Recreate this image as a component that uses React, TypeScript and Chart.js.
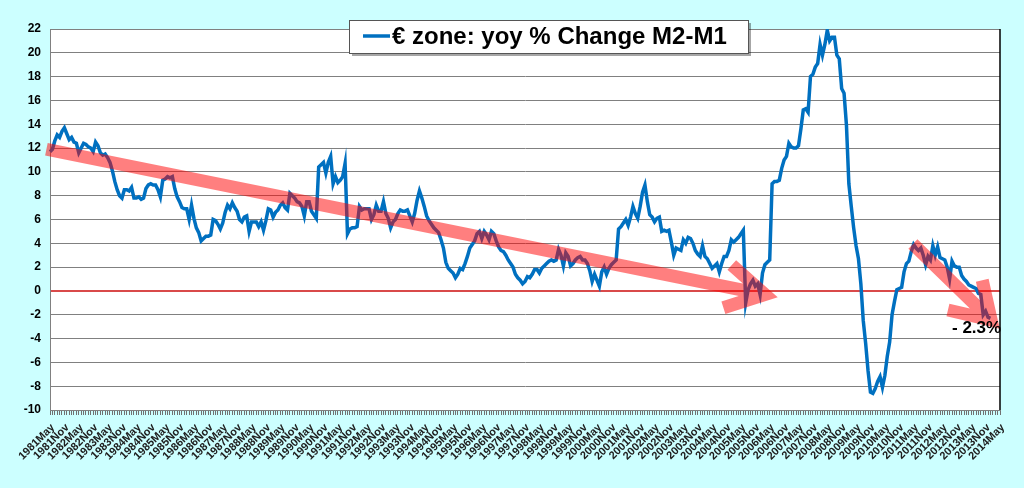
import React, { useEffect, useRef } from 'react';
import { Chart, registerables } from 'chart.js';

Chart.register(...registerables);

// Tick labels every 6 months (category axis is monthly)
const tickLabels = [
  '1981May', '1981Nov', '1982May', '1982Nov', '1983May', '1983Nov', '1984May', '1984Nov',
  '1985May', '1985Nov', '1986May', '1986Nov', '1987May', '1987Nov', '1988May', '1988Nov',
  '1989May', '1989Nov', '1990May', '1990Nov', '1991May', '1991Nov', '1992May', '1992Nov',
  '1993May', '1993Nov', '1994May', '1994Nov', '1995May', '1995Nov', '1996May', '1996Nov',
  '1997May', '1997Nov', '1998May', '1998Nov', '1999May', '1999Nov', '2000May', '2000Nov',
  '2001May', '2001Nov', '2002May', '2002Nov', '2003May', '2003Nov', '2004May', '2004Nov',
  '2005May', '2005Nov', '2006May', '2006Nov', '2007May', '2007Nov', '2008May', '2008Nov',
  '2009May', '2009Nov', '2010May', '2010Nov', '2011May', '2011Nov', '2012May', '2012Nov',
  '2013May', '2013Nov', '2014May',
];

// Monthly values, yoy % change of M2-M1
const m2m1_1981May_1986Apr = [
  11.7, 11.9, 12.6, 13.1, 12.9, 13.4, 13.7, 13.2, 12.7, 12.9, 12.5, 12.4,
  11.6, 12.0, 12.4, 12.3, 12.1, 12.0, 11.7, 12.5, 12.2, 11.6, 11.4, 11.5,
  11.2, 10.8, 10.1, 9.2, 8.5, 8.0, 7.8, 8.5, 8.5, 8.4, 8.7, 7.8,
  7.8, 7.9, 7.7, 7.8, 8.6, 8.9, 9.0, 8.9, 8.9, 8.5, 7.9, 9.3,
  9.4, 9.6, 9.5, 9.6, 8.6, 7.9, 7.5, 7.0, 6.9, 6.9, 6.0, 7.2,
];
const m2m1_1986May_1991Apr = [
  6.1, 5.3, 4.9, 4.2, 4.4, 4.6, 4.6, 4.7, 6.0, 5.9, 5.6, 5.2,
  5.7, 6.6, 7.2, 6.9, 7.4, 7.0, 6.7, 6.0, 5.8, 6.2, 6.3, 5.0,
  5.8, 5.8, 5.8, 5.4, 5.8, 5.1, 5.9, 6.9, 6.8, 6.2, 6.6, 6.8,
  7.2, 7.4, 7.0, 6.8, 8.2, 8.0, 7.8, 7.5, 7.4, 7.1, 6.3, 7.5,
  7.5, 6.7, 6.4, 6.1, 10.4, 10.6, 10.8, 9.9, 10.8, 11.3, 9.0, 9.6,
];
const m2m1_1991May_1996Apr = [
  9.1, 9.3, 9.6, 10.7, 4.8, 5.2, 5.3, 5.3, 5.4, 7.1, 6.8, 6.9,
  6.9, 6.9, 6.0, 6.4, 7.2, 6.7, 6.7, 7.5, 6.5, 6.1, 5.3, 5.8,
  6.0, 6.5, 6.8, 6.7, 6.7, 6.8, 6.3, 5.8, 6.5, 7.6, 8.4, 7.8,
  7.1, 6.3, 5.9, 5.6, 5.3, 5.1, 4.9, 4.3, 3.6, 2.4, 1.9, 1.7,
  1.5, 1.1, 1.4, 1.9, 1.8, 2.3, 2.9, 3.6, 3.9, 4.2, 4.8, 5.0,
];
const m2m1_1996May_2001Apr = [
  4.4, 5.0, 4.7, 4.3, 5.0, 4.8, 4.2, 3.7, 3.4, 3.3, 3.0, 2.6,
  2.3, 2.0, 1.4, 1.1, 0.9, 0.6, 0.8, 1.2, 1.1, 1.4, 1.8, 1.8,
  1.5, 1.9, 2.1, 2.3, 2.5, 2.6, 2.5, 2.6, 3.5, 3.0, 2.1, 3.2,
  2.9, 2.1, 2.3, 2.6, 2.8, 2.9, 2.6, 2.6, 2.3, 1.7, 0.8, 1.4,
  0.9, 0.4, 1.6, 2.0, 1.4, 1.9, 2.2, 2.4, 2.6, 5.2, 5.4, 5.7,
];
const m2m1_2001May_2006Apr = [
  6.0, 5.5, 6.2, 7.1, 6.5, 6.1, 7.1, 8.3, 8.9, 7.5, 6.4, 6.2,
  5.8, 6.1, 6.2, 5.0, 5.1, 5.0, 5.1, 4.1, 3.0, 3.6, 3.5, 3.4,
  4.3, 4.0, 4.5, 4.4, 4.0, 3.4, 3.1, 2.9, 3.8, 2.9, 2.7, 2.3,
  1.9, 2.1, 2.3, 1.6, 2.3, 2.9, 2.9, 3.4, 4.3, 4.1, 4.3, 4.5,
  4.8, 5.1, -1.0, 0.1, 0.6, 0.9, 0.4, 0.6, -0.3, 1.5, 2.2, 2.4,
];
const m2m1_2006May_2011Apr = [
  2.6, 9.0, 9.2, 9.2, 9.3, 10.3, 11.0, 11.3, 12.4, 12.1, 12.0, 12.0,
  12.2, 13.6, 15.2, 15.3, 15.0, 18.0, 18.2, 18.8, 19.1, 20.7, 19.8, 20.7,
  21.9, 21.0, 21.3, 21.3, 19.8, 19.5, 17.0, 16.6, 13.9, 9.0, 7.1, 5.3,
  3.8, 2.7, 0.6, -2.5, -4.4, -6.7, -8.5, -8.6, -8.2, -7.6, -7.2, -8.1,
  -7.1, -5.5, -4.3, -2.0, -0.9, 0.1, 0.2, 0.3, 1.6, 2.3, 2.5, 3.3,
];
const m2m1_2011May_2014May: (number | null)[] = [
  3.9, 3.6, 3.4, 3.6, 3.0, 2.2, 2.9, 2.6, 3.8, 3.0, 3.7, 2.8,
  2.7, 2.6, 2.0, 1.0, 2.5, 2.1, 2.0, 2.0, 1.3, 1.0, 0.8, 0.5,
  0.4, 0.3, 0.2, -0.2, -0.3, -2.0, -1.7, -2.2, -2.3, null, null, null, null,
];

const seriesValues: (number | null)[] = [
  ...m2m1_1981May_1986Apr,
  ...m2m1_1986May_1991Apr,
  ...m2m1_1991May_1996Apr,
  ...m2m1_1996May_2001Apr,
  ...m2m1_2001May_2006Apr,
  ...m2m1_2006May_2011Apr,
  ...m2m1_2011May_2014May,
];

const monthLabels = seriesValues.map((_, i) => (i % 6 === 0 ? tickLabels[i / 6] : ''));

const yMin = -10;
const yMax = 22;
const yStep = 2;

const legendText = '€ zone: yoy % Change M2-M1';
const calloutText = '- 2.3%';

// Annotation arrows in data units: [month index, value]
const longTrendArrow = {
  from: [-1.5, 11.9],
  tip: [298, -0.3],
  barbs: [[284.2, 2.18], [280.7, -1.41]],
};
const recentTrendArrow = {
  from: [359.7, 3.94],
  tip: [392.3, -2.45],
  barbs: [[388.6, 0.9], [374.3, -1.6]],
};
const calloutAt = [376, -3.1];

const FONT = "'Liberation Sans', Arial, sans-serif";
const LINE_BLUE = '#0070C0';

const decorPlugin = {
  id: 'decor',
  beforeDraw(chart: any) {
    const { ctx, chartArea: a, width, height } = chart;
    ctx.save();
    ctx.fillStyle = '#CCFFFF';
    ctx.fillRect(0, 0, width, height);
    ctx.fillStyle = '#FFFFFF';
    ctx.fillRect(a.left, a.top, a.right - a.left, a.bottom - a.top);
    ctx.restore();
  },
  afterDatasetsDraw(chart: any) {
    const { ctx } = chart;
    const xs = chart.scales.x;
    const ys = chart.scales.y;
    const px = (p: number[]) => [xs.getPixelForValue(p[0]), ys.getPixelForValue(p[1])];
    const drawArrow = (arr: any) => {
      const f = px(arr.from);
      const t = px(arr.tip);
      const b0 = px(arr.barbs[0]);
      const b1 = px(arr.barbs[1]);
      ctx.save();
      ctx.beginPath();
      ctx.moveTo(f[0], f[1]);
      ctx.lineTo(t[0], t[1]);
      ctx.moveTo(b0[0], b0[1]);
      ctx.lineTo(t[0], t[1]);
      ctx.lineTo(b1[0], b1[1]);
      ctx.strokeStyle = 'rgba(255,0,0,0.5)';
      ctx.lineWidth = 13;
      ctx.lineCap = 'butt';
      ctx.lineJoin = 'miter';
      ctx.miterLimit = 10;
      ctx.stroke();
      ctx.restore();
    };
    drawArrow(longTrendArrow);
    drawArrow(recentTrendArrow);

    const c = px(calloutAt);
    ctx.save();
    ctx.font = `bold 17px ${FONT}`;
    ctx.fillStyle = '#000000';
    ctx.textAlign = 'left';
    ctx.textBaseline = 'middle';
    ctx.fillText(calloutText, c[0], c[1]);
    ctx.restore();
  },
  afterDraw(chart: any) {
    const { ctx, chartArea: a } = chart;
    ctx.save();
    // right border of plot area
    ctx.strokeStyle = '#000000';
    ctx.lineWidth = 1.5;
    ctx.beginPath();
    ctx.moveTo(a.right, a.top);
    ctx.lineTo(a.right, a.bottom);
    ctx.stroke();

    // legend box
    const lx = 349, ly = 20, lw = 399, lh = 33;
    ctx.fillStyle = 'rgba(0,0,0,0.35)';
    ctx.fillRect(lx + 3, ly + 3, lw, lh);
    ctx.fillStyle = '#FFFFFF';
    ctx.fillRect(lx, ly, lw, lh);
    ctx.strokeStyle = '#555555';
    ctx.lineWidth = 1;
    ctx.strokeRect(lx + 0.5, ly + 0.5, lw, lh);
    ctx.strokeStyle = LINE_BLUE;
    ctx.lineWidth = 3.5;
    ctx.beginPath();
    ctx.moveTo(lx + 14, ly + 16);
    ctx.lineTo(lx + 41, ly + 16);
    ctx.stroke();
    ctx.font = `bold 24px ${FONT}`;
    ctx.fillStyle = '#000000';
    ctx.textAlign = 'left';
    ctx.textBaseline = 'middle';
    ctx.fillText(legendText, lx + 43, ly + 17);
    ctx.restore();
  },
};

export default function App() {
  const ref = useRef<HTMLCanvasElement>(null);
  useEffect(() => {
    const chart = new Chart(ref.current as HTMLCanvasElement, {
      type: 'line',
      data: {
        labels: monthLabels,
        datasets: [
          {
            label: legendText,
            data: seriesValues,
            borderColor: LINE_BLUE,
            backgroundColor: LINE_BLUE,
            borderWidth: 3.5,
            pointRadius: 0,
            tension: 0,
            fill: false,
          },
        ],
      },
      options: {
        animation: false,
        responsive: true,
        maintainAspectRatio: false,
        layout: { padding: { top: 29, right: 24, left: 0, bottom: 0 } },
        plugins: {
          legend: { display: false },
          tooltip: { enabled: false },
        },
        scales: {
          x: {
            type: 'category',
            offset: false,
            grid: {
              display: true,
              drawOnChartArea: false,
              drawTicks: true,
              tickLength: 5,
              color: '#707070',
              lineWidth: 1,
            },
            border: { color: '#808080', width: 1 },
            ticks: {
              autoSkip: false,
              maxRotation: 45,
              minRotation: 45,
              padding: 6,
              labelOffset: 3,
              color: '#202020',
              font: { family: FONT, size: 11, weight: 'bold' },
            },
            afterFit: (scale: any) => {
              scale.height = 78;
            },
          },
          y: {
            min: yMin,
            max: yMax,
            ticks: {
              stepSize: yStep,
              padding: 9,
              color: '#000000',
              font: { family: FONT, size: 12, weight: 'bold' },
            },
            grid: {
              drawTicks: false,
              color: (c: any) => (c.tick && c.tick.value === 0 ? '#D94A4A' : '#808080'),
              lineWidth: (c: any) => (c.tick && c.tick.value === 0 ? 2 : 1),
            },
            border: { color: '#808080', width: 1 },
            afterFit: (scale: any) => {
              scale.width = 50;
            },
          },
        },
      } as any,
      plugins: [decorPlugin],
    });
    return () => chart.destroy();
  }, []);
  return (
    <div
      style={{
        position: 'fixed',
        left: 0,
        top: 0,
        width: 1024,
        height: 488,
        background: '#CCFFFF',
      }}
    >
      <canvas ref={ref} />
    </div>
  );
}
